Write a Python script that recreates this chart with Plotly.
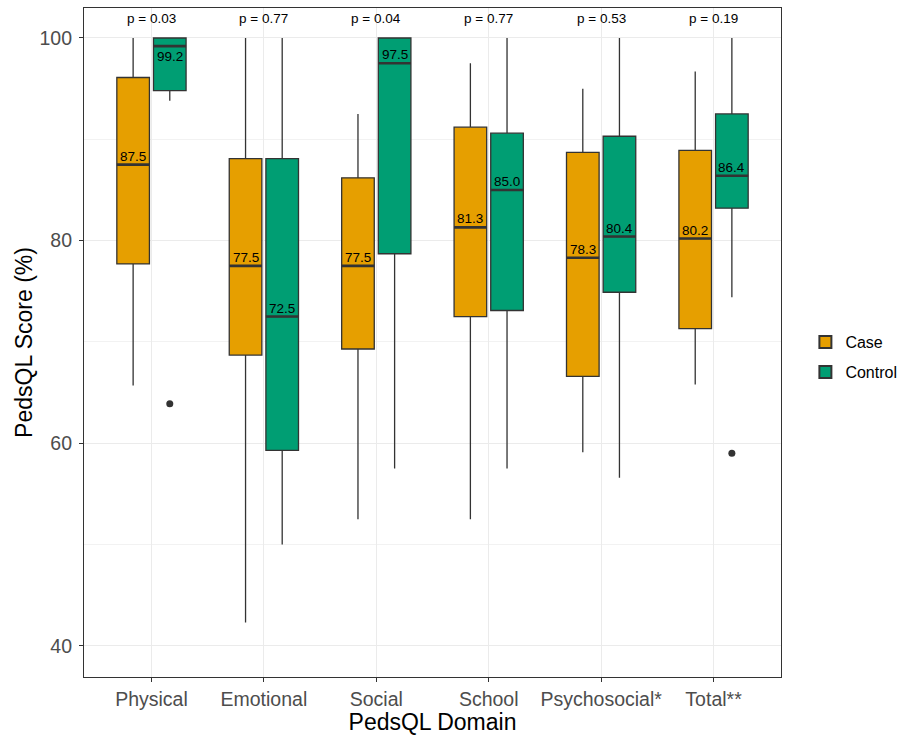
import plotly.graph_objects as go

domains = ["Physical", "Emotional", "Social", "School", "Psychosocial*", "Total**"]
p_values = ["p = 0.03", "p = 0.77", "p = 0.04", "p = 0.77", "p = 0.53", "p = 0.19"]

case_lower = [65.7, 42.3, 52.5, 52.5, 59.1, 65.8]
case_q1 = [77.7, 68.7, 69.3, 72.5, 66.6, 71.3]
case_median = [87.5, 77.5, 77.5, 81.3, 78.3, 80.2]
case_q3 = [96.1, 88.1, 86.2, 91.2, 88.7, 88.9]
case_upper = [100.0, 100.0, 92.5, 97.5, 95.0, 96.7]

control_lower = [93.8, 50.0, 57.5, 57.5, 56.6, 74.4]
control_q1 = [94.8, 59.3, 78.7, 73.1, 74.9, 83.2]
control_median = [99.2, 72.5, 97.5, 85.0, 80.4, 86.4]
control_q3 = [100.0, 88.1, 100.0, 90.6, 90.3, 92.5]
control_upper = [100.0, 100.0, 100.0, 100.0, 100.0, 100.0]

# outliers: (domain index, value)
control_outlier_domain = [0, 5]
control_outlier_value = [63.9, 59.0]

CASE_COLOR = "#E69F00"
CONTROL_COLOR = "#009E73"
EDGE = "#333333"
OFFSET = 0.163
BOXW = 0.29
FONT = "Liberation Sans, Arial, sans-serif"

fig = go.Figure()

groups = [
    ("Case", CASE_COLOR, -OFFSET, case_lower, case_q1, case_median, case_q3, case_upper),
    ("Control", CONTROL_COLOR, OFFSET, control_lower, control_q1, control_median, control_q3, control_upper),
]

idx = list(range(len(domains)))

for name, color, off, lo, q1, med, q3, up in groups:
    xs = [i + off for i in idx]
    fig.add_trace(go.Box(
        name=name, x=xs, q1=q1, median=med, q3=q3,
        lowerfence=lo, upperfence=up,
        width=BOXW, fillcolor=color, whiskerwidth=0,
        line=dict(color=EDGE, width=1.3),
        marker=dict(color=color),
        boxpoints=False, hoverinfo="skip",
        legendgroup=name,
    ))
    # thicker median lines
    mx, my = [], []
    for x, m in zip(xs, med):
        mx += [x - BOXW / 2, x + BOXW / 2, None]
        my += [m, m, None]
    fig.add_trace(go.Scatter(x=mx, y=my, mode="lines",
                             line=dict(color=EDGE, width=2.6),
                             showlegend=False, hoverinfo="skip", legendgroup=name))
    for x, m, top in zip(xs, med, q3):
        below = (top - m) < 1.5
        fig.add_annotation(x=x, y=m, text=f"{m:.1f}", showarrow=False,
                           yanchor="top" if below else "bottom", xanchor="center",
                           yshift=-1,
                           font=dict(family=FONT, size=13.5, color="#000000"))

fig.add_trace(go.Scatter(
    x=[i + OFFSET for i in control_outlier_domain], y=control_outlier_value,
    mode="markers", marker=dict(color=EDGE, size=7),
    showlegend=False, hoverinfo="skip", legendgroup="Control"))

for i, p in zip(idx, p_values):
    fig.add_annotation(x=i, y=101.95, text=p, showarrow=False,
                       xanchor="center", yanchor="middle",
                       font=dict(family=FONT, size=13.5, color="#000000"))

fig.update_layout(
    width=907, height=735,
    margin=dict(l=84, r=126, t=8, b=58, autoexpand=False),
    paper_bgcolor="white", plot_bgcolor="white",
    font=dict(family=FONT),
    boxmode="overlay",
    legend=dict(x=1.035, y=0.478, xanchor="left", yanchor="middle",
                font=dict(family=FONT, size=16, color="#000000"),
                traceorder="grouped", tracegroupgap=6, itemsizing="constant"),
    showlegend=True,
)
fig.update_xaxes(
    range=[-0.6, 5.6], tickmode="array", tickvals=idx, ticktext=domains,
    showgrid=True, gridcolor="#ebebeb", gridwidth=1, zeroline=False,
    showline=True, linecolor=EDGE, linewidth=1.2, mirror=True,
    ticks="outside", ticklen=4, tickcolor=EDGE, automargin=True,
    tickfont=dict(family=FONT, size=19.5, color="#4d4d4d"),
    title=dict(text="PedsQL Domain", font=dict(family=FONT, size=23, color="#000000"), standoff=2),
)
fig.update_yaxes(
    range=[36.92, 102.96], tickmode="array", tickvals=[40, 60, 80, 100],
    showgrid=True, gridcolor="#ebebeb", gridwidth=1, zeroline=False,
    minor=dict(tickmode="array", tickvals=[50, 70, 90], showgrid=True, gridcolor="#f2f2f2", gridwidth=1, ticks=""),
    showline=True, linecolor=EDGE, linewidth=1.2, mirror=True,
    ticks="outside", ticklen=4, tickcolor=EDGE, automargin=True, ticklabelstandoff=3,
    tickfont=dict(family=FONT, size=19.5, color="#4d4d4d"),
    title=dict(text="PedsQL Score (%)", font=dict(family=FONT, size=23, color="#000000"), standoff=0),
)

fig.write_html("out.html", config={"displayModeBar": False},
               post_script="document.body.style.margin='0';")
